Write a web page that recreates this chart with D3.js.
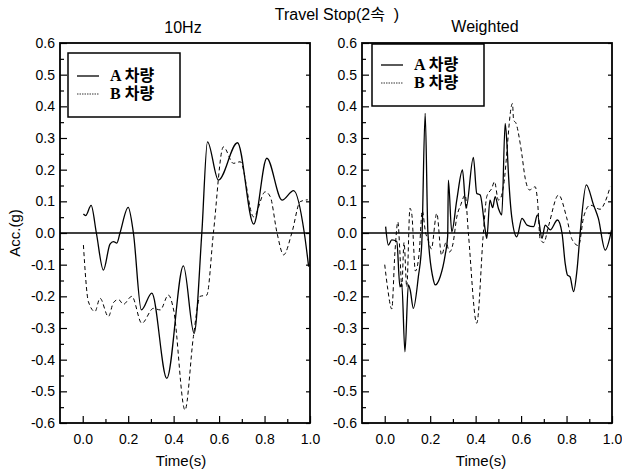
<!DOCTYPE html>
<html lang="ko">
<head>
<meta charset="utf-8">
<title>Travel Stop</title>
<script src="https://cdnjs.cloudflare.com/ajax/libs/d3/7.8.5/d3.min.js"></script>
<style>
  html, body { margin: 0; padding: 0; background: #fff; }
  svg { display: block; font-family: "Liberation Sans", Arial, "Noto Sans CJK KR", sans-serif; }
  .tick text { font-size: 14px; fill: #000; }
  .tick line { stroke: #000; stroke-width: 1.2; }
  .legend-text { font-family: "Liberation Serif", "Noto Sans CJK KR", serif; font-weight: bold; font-size: 16px; }
</style>
</head>
<body>
<svg id="chart" width="622" height="470"></svg>
<script>
// tick labels
const xMajor = [0.0, 0.2, 0.4, 0.6, 0.8, 1.0];
const xMinor = [0.1, 0.3, 0.5, 0.7, 0.9];
const yMajor = [-0.6, -0.5, -0.4, -0.3, -0.2, -0.1, 0.0, 0.1, 0.2, 0.3, 0.4, 0.5, 0.6];
const yMinor = [-0.55, -0.45, -0.35, -0.25, -0.15, -0.05, 0.05, 0.15, 0.25, 0.35, 0.45, 0.55];
const seriesNames = ['A 차량', 'B 차량'];

// 10Hz panel  [time (s), acc (g)]
const a10 = [[0.003,0.06],[0.013,0.055],[0.037,0.087],[0.06,0.0],[0.091,-0.117],[0.12,-0.035],[0.135,-0.027],[0.15,-0.032],[0.164,0.0],[0.2,0.081],[0.223,0.0],
  [0.258,-0.243],[0.304,-0.19],[0.37,-0.459],[0.443,-0.104],[0.49,-0.317],[0.524,0.0],[0.549,0.288],[0.597,0.167],[0.681,0.285],[0.752,0.028],
  [0.81,0.236],[0.877,0.104],[0.928,0.134],[0.975,0.0],[0.994,-0.106]];
const b10 = [[0.003,-0.038],[0.025,-0.217],[0.054,-0.248],[0.076,-0.206],[0.113,-0.264],[0.135,-0.22],[0.157,-0.21],[0.179,-0.225],[0.216,-0.2],
  [0.26,-0.285],[0.311,-0.238],[0.341,-0.243],[0.377,-0.196],[0.4,-0.243],[0.45,-0.559],[0.487,-0.327],[0.517,-0.2],[0.546,-0.196],[0.575,0.0],
  [0.619,0.272],[0.663,0.22],[0.693,0.225],[0.752,0.051],[0.803,0.13],[0.825,0.115],[0.855,0.0],[0.884,-0.069],[0.92,0.0],[0.957,0.099],[0.99,0.105]];

// Weighted panel
const aW = [[0.004,0.02],[0.016,-0.038],[0.031,-0.022],[0.053,-0.027],[0.067,-0.17],[0.075,-0.16],[0.089,-0.375],[0.104,-0.164],[0.112,-0.18],
  [0.126,-0.238],[0.148,-0.138],[0.163,-0.033],[0.178,0.378],[0.19,0.0],[0.214,-0.148],[0.222,-0.164],[0.244,-0.138],[0.266,-0.069],[0.277,-0.01],
  [0.28,0.167],[0.295,0.004],[0.317,0.104],[0.342,0.199],[0.358,0.078],[0.39,0.239],[0.405,0.125],[0.42,0.12],[0.442,0.01],[0.449,-0.017],
  [0.463,0.104],[0.475,0.08],[0.486,0.115],[0.5,0.078],[0.515,0.057],[0.53,0.346],[0.537,0.29],[0.545,0.178],[0.559,0.05],[0.581,-0.012],
  [0.604,0.046],[0.626,0.025],[0.655,0.02],[0.672,0.057],[0.692,-0.017],[0.706,0.025],[0.728,0.01],[0.76,0.041],[0.78,0.0],[0.794,-0.096],
  [0.804,-0.133],[0.815,-0.138],[0.831,-0.185],[0.846,-0.117],[0.86,0.0],[0.887,0.152],[0.919,0.088],[0.94,0.046],[0.97,-0.054],[0.998,0.01]];
const bW = [[0.0,-0.1],[0.012,-0.17],[0.031,-0.24],[0.045,-0.06],[0.058,0.035],[0.066,-0.05],[0.075,-0.17],[0.085,-0.03],[0.097,-0.17],
  [0.111,0.078],[0.119,0.06],[0.135,-0.12],[0.152,-0.06],[0.165,0.07],[0.18,0.0],[0.19,-0.02],[0.205,-0.05],[0.229,0.062],[0.25,-0.07],
  [0.27,-0.03],[0.285,-0.06],[0.3,-0.035],[0.317,0.05],[0.335,0.09],[0.354,0.12],[0.368,0.0],[0.405,-0.285],[0.434,0.0],[0.449,0.115],
  [0.471,0.141],[0.483,0.162],[0.5,0.104],[0.51,0.11],[0.522,0.146],[0.562,0.409],[0.567,0.357],[0.578,0.346],[0.596,0.283],[0.603,0.25],
  [0.618,0.173],[0.637,0.136],[0.662,0.146],[0.672,0.104],[0.684,-0.02],[0.7,-0.03],[0.72,0.02],[0.765,0.12],[0.8,0.05],[0.824,-0.02],
  [0.853,-0.04],[0.875,0.05],[0.904,0.088],[0.948,0.075],[0.97,0.099],[0.992,0.146]];

const svg = d3.select('#chart');
const plotTop = 43, plotBottom = 423;

const panels = [
  { title: '10Hz', left: 60, right: 310, a: a10, b: b10, legend: { x: 68, y: 53, w: 112, h: 64, first: 23 }, titleY: 33, labelX: 181, yLabel: true },
  { title: 'Weighted', left: 362, right: 612, a: aW, b: bW, legend: { x: 372, y: 44, w: 112, h: 62, first: 21 }, titleY: 32, labelX: 481, yLabel: false }
];

svg.append('text')
  .attr('x', 337).attr('y', 20)
  .attr('text-anchor', 'middle')
  .style('font-size', '16px')
  .style('white-space', 'pre')
  .text('Travel Stop(2속  )');

const fmt = d => (Math.abs(d) < 1e-9 ? 0 : d).toFixed(1);

panels.forEach(p => {
  const x = d3.scaleLinear().domain([-0.1, 1.0]).range([p.left, p.right]);
  const y = d3.scaleLinear().domain([-0.6, 0.6]).range([plotBottom, plotTop]);
  const g = svg.append('g');

  // ticks (inward)
  g.append('g').attr('transform', `translate(0,${plotBottom})`)
    .call(d3.axisBottom(x).tickValues(xMajor).tickSize(-7).tickPadding(11).tickFormat(fmt))
    .call(s => s.select('.domain').remove());
  g.append('g').attr('transform', `translate(0,${plotBottom})`)
    .call(d3.axisBottom(x).tickValues(xMinor).tickSize(-4).tickFormat(''))
    .call(s => s.select('.domain').remove());
  g.append('g').attr('transform', `translate(${p.left},0)`)
    .call(d3.axisLeft(y).tickValues(yMajor).tickSize(-7).tickPadding(5).tickFormat(fmt))
    .call(s => s.select('.domain').remove());
  g.append('g').attr('transform', `translate(${p.left},0)`)
    .call(d3.axisLeft(y).tickValues(yMinor).tickSize(-4).tickFormat(''))
    .call(s => s.select('.domain').remove());
  g.append('g').attr('transform', `translate(${p.right},0)`)
    .call(d3.axisRight(y).tickValues(yMajor).tickSize(-4).tickFormat(''))
    .call(s => s.select('.domain').remove());

  // frame
  g.append('rect')
    .attr('x', p.left).attr('y', plotTop)
    .attr('width', p.right - p.left).attr('height', plotBottom - plotTop)
    .attr('fill', 'none').attr('stroke', '#000').attr('stroke-width', 1.8);

  // zero line
  g.append('line')
    .attr('x1', p.left).attr('x2', p.right)
    .attr('y1', y(0)).attr('y2', y(0))
    .attr('stroke', '#000').attr('stroke-width', 1.3);

  const line = d3.line().x(d => x(d[0])).y(d => y(d[1])).curve(d3.curveMonotoneX);

  g.append('path').datum(p.b)
    .attr('d', line).attr('fill', 'none')
    .attr('stroke', '#000').attr('stroke-width', 1).attr('stroke-dasharray', '4,3');
  g.append('path').datum(p.a)
    .attr('d', line).attr('fill', 'none')
    .attr('stroke', '#000').attr('stroke-width', 1.3);

  // titles
  g.append('text')
    .attr('x', (p.left + p.right) / 2 - 2).attr('y', p.titleY)
    .attr('text-anchor', 'middle').style('font-size', '16px')
    .text(p.title);
  g.append('text')
    .attr('x', p.labelX).attr('y', 466)
    .attr('text-anchor', 'middle').style('font-size', '15px')
    .text('Time(s)');
  if (p.yLabel) {
    g.append('text')
      .attr('transform', `translate(20,${y(0)}) rotate(-90)`)
      .attr('text-anchor', 'middle').style('font-size', '15px')
      .text('Acc.(g)');
  }

  // legend
  const L = p.legend;
  const lg = g.append('g').attr('transform', `translate(${L.x},${L.y})`);
  lg.append('rect').attr('width', L.w).attr('height', L.h)
    .attr('fill', '#fff').attr('stroke', '#000').attr('stroke-width', 1.5);
  seriesNames.forEach((name, i) => {
    const ly = L.first + i * 18;
    lg.append('line')
      .attr('x1', 9).attr('x2', 31).attr('y1', ly).attr('y2', ly)
      .attr('stroke', '#000')
      .attr('stroke-width', i === 0 ? 1.3 : 0.8)
      .attr('stroke-dasharray', i === 0 ? null : '1.5,1');
    lg.append('text')
      .attr('class', 'legend-text')
      .attr('x', 42).attr('y', ly + 5)
      .text(name);
  });
});
</script>
</body>
</html>
